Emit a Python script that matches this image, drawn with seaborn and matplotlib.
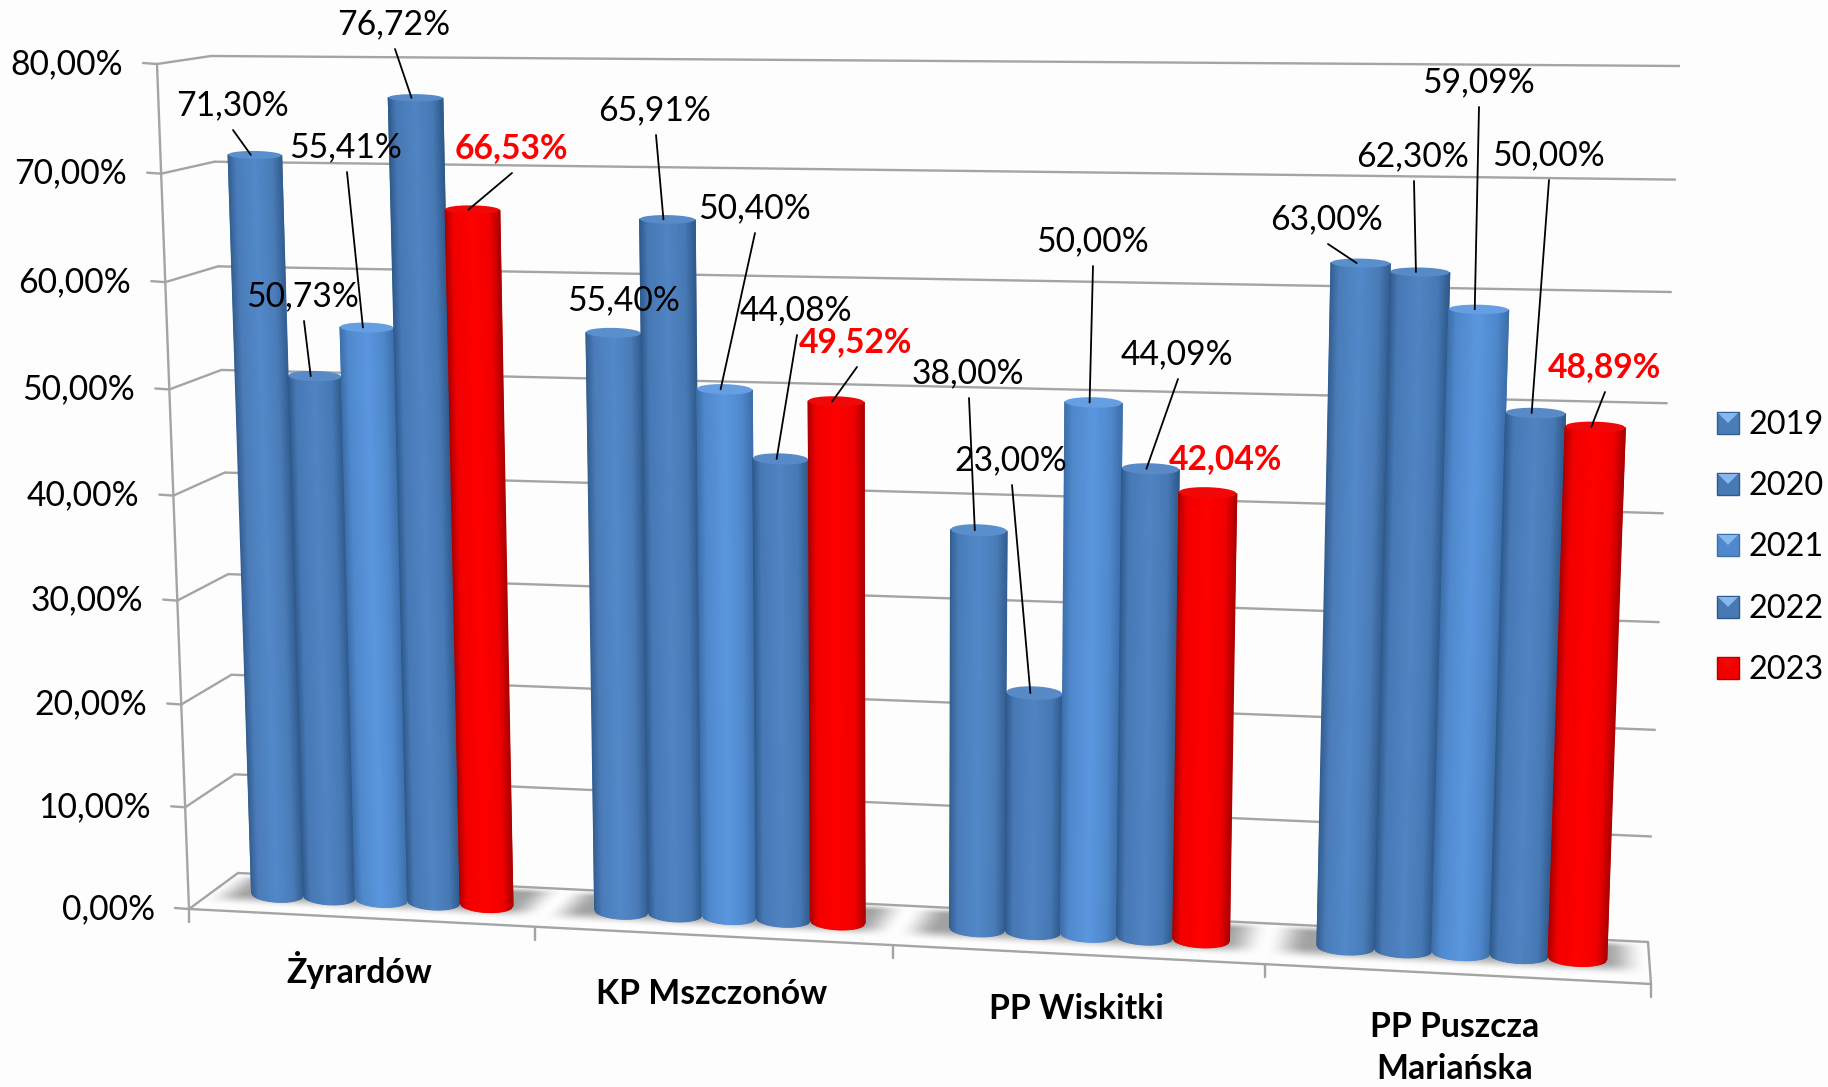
"""Frequency chart, cylinders in perspective, drawn from seaborn bar geometry."""
import numpy as np
import pandas as pd
import matplotlib
matplotlib.use("Agg")
import matplotlib.pyplot as plt
import seaborn as sns
from matplotlib.colors import LinearSegmentedColormap
from matplotlib.patches import Polygon

# --- data ---
categories = ["Żyrardów", "KP Mszczonów", "PP Wiskitki", "PP Puszcza\nMariańska"]
years = ["2019", "2020", "2021", "2022", "2023"]
v2019 = [71.30, 55.40, 38.00, 63.00]
v2020 = [50.73, 65.91, 23.00, 62.30]
v2021 = [55.41, 50.40, 50.00, 59.09]
v2022 = [76.72, 44.08, 44.09, 50.00]
v2023 = [66.53, 49.52, 42.04, 48.89]
series = [v2019, v2020, v2021, v2022, v2023]
y_ticks = [0, 10, 20, 30, 40, 50, 60, 70, 80]

# --- layout, in image pixels ---
W, H = 1828, 1087
BACK = [(238, 873), (1648, 942), (1680, 66), (211, 56)]
FRONT = [(189, 909), (1651, 984), (1686, 75), (157, 64)]
BARS = [(212, 895), (1652, 966), (1685, 72), (184, 60)]
label_xy = [
    [(232, 103), (624, 298), (968, 371), (1327, 217)],
    [(303, 294), (655, 108), (1011, 458), (1413, 154)],
    [(346, 145), (754, 206), (1092, 239), (1478, 80)],
    [(394, 22), (796, 308), (1177, 352), (1548, 153)],
    [(511, 146), (856, 340), (1226, 457), (1604, 365)],
]
no_leader = {(0, 1), (4, 2)}
cat_xy = [(359, 970), (712, 994), (1076, 1009), (1455, 1048)]
legend_y = [423, 484, 545, 607, 668]
edge_cols = ["#345f92", "#2f5a8c", "#3d70ab", "#2f5a8c", "#ad0000"]
mid_cols = ["#4a7cb8", "#4779b5", "#4f88cc", "#4779b5", "#f20000"]
top_cols = ["#5389ca", "#5084c2", "#5b97e0", "#5084c2", "#ff0000"]
cap_cols = ["#5a8fce", "#588ac8", "#659fe2", "#588ac8", "#f00808"]
GRID = "#a4a4a4"
BG = "#fdfdfd"


def homography(corners):
    # unit square (u, t) -> image
    src = [(0, 0), (1, 0), (1, 1), (0, 1)]
    A, b = [], []
    for (u, t), (x, y) in zip(src, corners):
        A.append([u, t, 1, 0, 0, 0, -u * x, -t * x])
        A.append([0, 0, 0, u, t, 1, -u * y, -t * y])
        b += [x, y]
    return np.append(np.linalg.solve(np.array(A, float), np.array(b, float)), 1).reshape(3, 3)


def project(M, u, t):
    u, t = np.asarray(u, float), np.asarray(t, float)
    w = M[2, 0] * u + M[2, 1] * t + M[2, 2]
    return (M[0, 0] * u + M[0, 1] * t + M[0, 2]) / w, (M[1, 0] * u + M[1, 1] * t + M[1, 2]) / w


sns.set_theme(style="white")
plt.rcParams["font.family"] = ["Lato", "DejaVu Sans"]
fig = plt.figure(figsize=(W / 100, H / 100), dpi=100, facecolor=BG)

# seaborn gives the bar positions and heights
df = pd.DataFrame({
    "cat": np.tile(categories, len(years)),
    "year": np.repeat(years, len(categories)),
    "val": np.concatenate(series),
})
scale_ax = fig.add_axes([0, 0, 1, 1])
sns.barplot(df, x="cat", y="val", hue="year", width=0.765, legend=False, ax=scale_ax)
scale_ax.set_xlim(-0.5, 3.5)
scale_ax.set_ylim(0, 80)
bars = [[(p.get_x(), p.get_width(), p.get_height()) for p in c] for c in scale_ax.containers]
scale_ax.set_visible(False)

ax = fig.add_axes([0, 0, 1, 1])

M_back, M_front, M_bars = homography(BACK), homography(FRONT), homography(BARS)
M_floor = homography([FRONT[0], FRONT[1], BACK[1], BACK[0]])
U = lambda x: (x + 0.5) / 4
lw = 1.7

# soft shadow on the floor, one raster for all groups
px, py = np.meshgrid(np.arange(W) + 0.5, np.arange(H) + 0.5)
uu, dd = project(np.linalg.inv(M_floor), px, py)
shade = np.zeros((H, W))
for c in range(len(categories)):
    u0 = U(bars[0][c][0]) - 0.03
    u1 = U(bars[-1][c][0] + bars[-1][c][1]) + 0.028
    a = np.clip(np.minimum(uu - u0, u1 - uu) / 0.028, 0, 1)
    b = np.clip(np.minimum((dd - 0.14) / 0.34, (1.02 - dd) / 0.2), 0, 1)
    shade = np.maximum(shade, a * a * (3 - 2 * a) * b * b * (3 - 2 * b))
rgba = np.full((H, W, 4), 0.42)
rgba[..., 3] = shade * 0.62
ax.imshow(rgba, extent=(0, W, H, 0), aspect="auto", interpolation="bilinear", zorder=0.5)
ax.set_xlim(0, W)
ax.set_ylim(H, 0)
ax.axis("off")

# walls and floor
for v in y_ticks:
    t = v / 80
    xb, yb = project(M_back, [0, 1], [t, t])
    ax.plot(xb, yb, color=GRID, lw=lw, solid_capstyle="butt", zorder=1)
    xf, yf = project(M_front, 0, t)
    ax.plot([xf, xb[0]], [yf, yb[0]], color=GRID, lw=lw, zorder=1)
    ax.plot([xf - 14, xf], [yf - 1, yf], color=GRID, lw=lw, zorder=1)
    ax.text(xf - 34, yf, f"{v},00%", ha="right", va="center", fontsize=24.2, color="black", zorder=6)
xa, ya = project(M_front, [0, 0], [0, 1])
ax.plot(xa, ya, color=GRID, lw=lw, zorder=1)
x0, y0 = project(M_front, [0, 1], [0, 0])
ax.plot(x0, y0, color=GRID, lw=lw, zorder=1)
ax.plot([FRONT[1][0], BACK[1][0]], [FRONT[1][1], BACK[1][1]], color=GRID, lw=lw, zorder=1)
for i in range(5):
    xt, yt = project(M_front, i / 4, 0)
    ax.plot([xt, xt], [yt, yt + 13], color=GRID, lw=lw, zorder=1)

# cylinders
s = np.linspace(0, 1, 33)
bump = np.sqrt(np.clip(1 - (2 * s - 1) ** 2, 0, 1))
tops = {}
for k, row in enumerate(bars):
    cmap = LinearSegmentedColormap.from_list(
        f"c{k}",
        [(0, edge_cols[k]), (0.14, mid_cols[k]), (0.5, top_cols[k]), (0.82, mid_cols[k]), (1, edge_cols[k])],
    )
    for c, (bx, bw, bh) in enumerate(row):
        t = bh / 80
        txl, tyl = project(M_bars, U(bx), t)
        txr, tyr = project(M_bars, U(bx + bw), t)
        bxl, byl = project(M_bars, U(bx), 0)
        bxr, byr = project(M_bars, U(bx + bw), 0)
        tops[(k, c)] = ((txl + txr) / 2, (tyl + tyr) / 2)
        cap = 3.5 + 4.5 * (1 - t)
        base = 8
        X = np.vstack([txl + (txr - txl) * s, bxl + (bxr - bxl) * s])
        Y = np.vstack([tyl + (tyr - tyl) * s, byl + (byr - byl) * s - 4 + base * bump])
        ax.pcolormesh(X, Y, np.vstack([s, s]), cmap=cmap, vmin=0, vmax=1, shading="gouraud", zorder=3)
        ex = txl + (txr - txl) * s
        ey = tyl + (tyr - tyl) * s
        pts = np.column_stack([np.r_[ex, ex[::-1]], np.r_[ey - cap * bump, (ey + cap * bump)[::-1]]])
        ax.add_patch(Polygon(pts, closed=True, facecolor=cap_cols[k], edgecolor="none", zorder=3))

# data labels and leaders
for k, year_vals in enumerate(series):
    red = k == len(series) - 1
    for c, val in enumerate(year_vals):
        lx, ly = label_xy[k][c]
        txt = f"{val:.2f}%".replace(".", ",")
        ax.text(lx, ly + 2, txt, ha="center", va="center", fontsize=24.2, zorder=7,
                color="#ff0000" if red else "black", fontweight="bold" if red else "normal")
        if (k, c) not in no_leader:
            ex, ey = tops[(k, c)]
            ax.plot([lx + 1, ex - 4], [ly + 27, ey], color="black", lw=1.3, zorder=6)

# category labels
for name, (cx, cy) in zip(categories, cat_xy):
    ax.text(cx, cy, name, ha="center", va="center", fontsize=24.3, fontweight="bold",
            color="black", linespacing=1.42, zorder=6)

# legend
for k, yr in enumerate(years):
    ly = legend_y[k]
    x1, x2, y1, y2 = 1717, 1739, ly - 11, ly + 11
    ax.add_patch(Polygon([(x1, y1), (x2, y1), (x2, y2), (x1, y2)], facecolor=mid_cols[k],
                         edgecolor=edge_cols[k], lw=1, zorder=5))
    ax.add_patch(Polygon([(x1 + 1, y1 + 1), (x2 - 1, y1 + 1), ((x1 + x2) / 2, ly)],
                         facecolor=cap_cols[k] if k == 4 else "#86b8ee", edgecolor="none", zorder=5))
    ax.text(1748, ly + 2, yr, ha="left", va="center", fontsize=23.4, color="black", zorder=6)

fig.savefig("out.png", dpi=100, facecolor=fig.get_facecolor())
